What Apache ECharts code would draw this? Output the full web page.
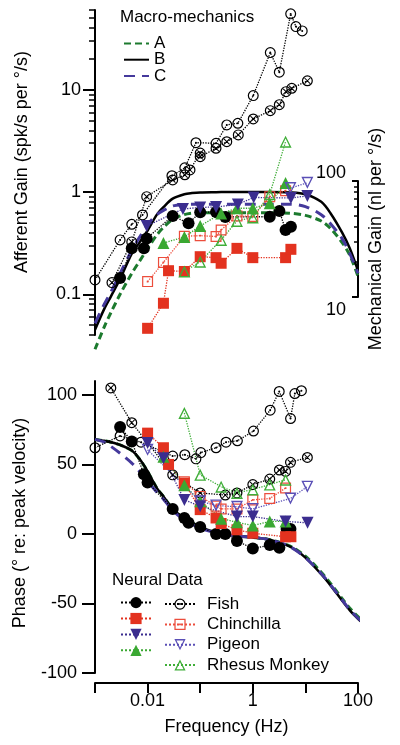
<!DOCTYPE html>
<html><head><meta charset="utf-8">
<script src="https://cdn.jsdelivr.net/npm/echarts@6/dist/echarts.min.js"></script>
<style>html,body{margin:0;padding:0;background:#fff}#c{width:400px;height:745px}</style>
</head><body><div id="c"></div>
<script>
// ---------------- DATA ----------------
// Macro-mechanics model curves (frequency in Hz)
const curveFreq = [0.001,0.0015,0.002,0.003,0.005,0.007,0.01,0.015,0.02,0.03,0.05,0.07,0.1,0.2,0.5,1,2,5,10,20,30,50,70,100];
const gainA = [0.029,0.048,0.066,0.10,0.16,0.21,0.28,0.38,0.45,0.54,0.60,0.62,0.625,0.625,0.625,0.625,0.625,0.62,0.59,0.52,0.44,0.32,0.24,0.15];
const gainB = [0.045,0.072,0.095,0.141,0.25,0.32,0.42,0.60,0.71,0.86,0.95,0.975,0.99,0.995,1.0,1.0,1.0,0.99,0.95,0.80,0.62,0.40,0.28,0.17];
const gainC = [0.052,0.08,0.105,0.16,0.27,0.36,0.48,0.60,0.66,0.73,0.755,0.76,0.76,0.76,0.76,0.76,0.76,0.76,0.72,0.60,0.49,0.35,0.25,0.16];
const phaseFreq = [0.001,0.0015,0.002,0.003,0.005,0.007,0.01,0.015,0.02,0.03,0.05,0.07,0.1,0.2,0.5,1,2,5,10,20,30,50,70,100,140];
const phaseA = [68,67,66,64,60,54,45,33,27,18,11,8,5,1,-1.5,-2.5,-4,-8.5,-16,-27.5,-35.5,-46.5,-53.5,-59.5,-64.5];
const phaseB = [68,67,66,64,60,54,45,33,27,18,11,8,5,1,-1.5,-2.5,-4,-9,-17,-29,-37,-48,-55,-61,-66];
const phaseC = [68,66,63,58,51,45,38,30,25,17,10,7,4,1,-1.5,-2.5,-4,-9,-17,-28.5,-36.5,-47.5,-54.5,-60.5,-65.5];

// Neural data: Fish (filled circles)
const fishFilledGainFreq = [0.003,0.005,0.0085,0.0096,0.03,0.06,0.1,0.2,0.3,2.1,3.2,4.2,5.3];
const fishFilledGain = [0.144,0.282,0.282,0.351,0.583,0.494,0.633,0.637,0.570,0.573,0.652,0.425,0.458];
const fishFilledPhaseFreq = [0.003,0.005,0.0085,0.01,0.03,0.05,0.06,0.1,0.2,0.3,0.5,1,2.1,3.2,4.4,5.2];
const fishFilledPhase = [77,66.5,43,37,18,11.5,8,5,0,0,-5,-10.5,-8,-10,3.5,3.5];
// Fish (open circles)
const fishOpenGainFreq = [0.001,0.003,0.005,0.008,0.029,0.051,0.083,0.2,0.32,0.52,1.02,2.15,3.19,5.25,6.6,8.7];
const fishOpenGain = [0.138,0.34,0.483,0.596,1.44,1.72,3.03,2.99,4.52,4.69,8.74,23,14.8,55,41.3,37.5];
const fishOpenPhaseFreq = [0.001,0.003,0.0075,0.03,0.051,0.083,0.103,0.2,0.31,0.51,1.03,2.14,3.18,5.22,6.3,8.4];
const fishOpenPhase = [62,70.5,66,56,57,54,58.5,62,66,67,74,89,102.5,83,101,103];
// Fish (crossed circles)
const fishCrossGainFreq = [0.0021,0.005,0.0096,0.03,0.051,0.064,0.1,0.1,0.2,0.32,0.53,1.02,2.15,3.19,4.28,5.5,10.9];
const fishCrossGain = [0.13,0.325,0.90,1.31,1.47,1.64,2.40,2.21,2.67,3.10,3.61,5.17,6.23,7.13,9.56,10.3,12.2];
const fishCrossPhaseFreq = [0.002,0.005,0.03,0.1,0.3,0.5,1,2.1,3.2,4.2,5.2,10.9];
const fishCrossPhase = [105,80,42.5,29.5,28,29.5,35.5,39.5,46,45,51.5,55];
// Chinchilla (filled squares)
const chinFilledFreq = [0.01,0.02,0.025,0.05,0.1,0.2,0.25,0.5,1,4.2,5.3];
const chinFilledGain = [0.0465,0.0817,0.170,0.167,0.233,0.228,0.201,0.281,0.228,0.228,0.275];
const chinFilledPhase = [72.5,62,50,36.5,17.5,11.5,7.5,3,0.5,-2,-2];
// Chinchilla (open squares)
const chinOpenGainFreq = [0.01,0.02,0.05,0.1,0.2,0.25,0.5,1,2.1,4.2];
const chinOpenGain = [0.133,0.205,0.369,0.374,0.367,0.425,0.583,0.576,0.90,1.03];
const chinOpenPhaseFreq = [0.05,0.1,0.2,0.25,0.5,1,2.1,4.2];
const chinOpenPhase = [37.5,27,20,18,18,24.5,25.5,33];
// Pigeon (filled down-triangles)
const pigFilledGainFreq = [0.0096,0.047,0.1,0.2,0.52,1.04,5.3,10.9];
const pigFilledGain = [0.465,0.682,0.706,0.713,0.755,0.884,0.874,0.914];
const pigFilledPhaseFreq = [0.01,0.02,0.05,0.1,0.5,1,4.2,11];
const pigFilledPhase = [65.5,54.5,24.5,20,12.5,12.5,9,8];
// Pigeon (open down-triangles)
const pigOpenGainFreq = [5.2,10.9];
const pigOpenGain = [1.09,1.23];
const pigOpenPhaseFreq = [0.01,0.1,0.2,0.5,1,5.2,10.9];
const pigOpenPhase = [60.5,23.5,20.5,19.5,18,25.5,34];
// Rhesus Monkey (filled triangles)
const rheFilledFreq = [0.02,0.05,0.1,0.25,0.5,1,2.1,4.2];
const rheFilledGain = [0.317,0.363,0.465,0.617,0.693,0.693,0.776,1.22];
const rheFilledPhase = [55.5,35,23.5,11,8.5,6,9,9];
// Rhesus Monkey (open triangles)
const rheOpenFreq = [0.05,0.1,0.25,0.5,1,2.1,4.2];
const rheOpenGain = [0.167,0.208,0.340,0.521,0.563,0.95,3.10];
const rheOpenPhase = [87,42.5,34,29.5,32,35.5,39];

// Axis ticks / labels
const gainRange = [0.04, 60];
const gainMajorTicks = [0.1, 1, 10];
const gainMinorTicks = [0.04,0.05,0.06,0.07,0.08,0.09,0.2,0.3,0.4,0.5,0.6,0.7,0.8,0.9,2,3,4,5,6,7,8,9,20,30,40,50,60];
const mechRange = [10, 100];
const mechMajorTicks = [10, 100];
const mechMinorTicks = [20,30,40,50,60,70,80,90];
const freqRange = [0.001, 100];
const freqTicks = [0.001,0.01,0.1,1,10,100];
const freqTickLabels = [0.01, 1, 100];
const phaseRange = [-100, 110];
const phaseTicks = [-100,-50,0,50,100];

// ---------------- STYLE ----------------
const FONT = '"Liberation Sans", Arial, Helvetica, sans-serif';
const COL = {
  black:'#000000', greenDark:'#1c7a2e', blueDark:'#45399c',
  red:'#e3321f', redOpen:'#ec4d3c', green:'#3aa832', greenOpen:'#3fae38',
  pigeon:'#3b2d8f', pigeonOpen:'#5a4fb6'
};
const SYM = {
  dotCircle:'path://M0,10A10,10 0 1,0 20,10A10,10 0 1,0 0,10Z M2.2,10A7.8,7.8 0 1,1 17.8,10A7.8,7.8 0 1,1 2.2,10Z M8.2,10A1.8,1.8 0 1,0 11.8,10A1.8,1.8 0 1,0 8.2,10Z',
  crossCircle:'path://M0,10A10,10 0 1,0 20,10A10,10 0 1,0 0,10Z M2.2,10A7.8,7.8 0 1,1 17.8,10A7.8,7.8 0 1,1 2.2,10Z M5.6,4.3L15.7,14.4L14.4,15.7L4.3,5.6Z M14.4,4.3L15.7,5.6L5.6,15.7L4.3,14.4Z',
  dotSquare:'path://M0,0L20,0L20,20L0,20Z M2.2,2.2L2.2,17.8L17.8,17.8L17.8,2.2Z M8.4,8.4L11.6,8.4L11.6,11.6L8.4,11.6Z',
  openTri:'path://M10,0L20,18L0,18Z M10,4.4L3.7,15.9L16.3,15.9Z'
};

const ln = (x) => Math.log10(x);
function fmtNum(v){ const r = Math.pow(10, v); return String(parseFloat(r.toPrecision(3))); }

function curve(name, F, V, isGain, color, width, dash){
  return {
    type:'line', name, xAxisIndex: isGain?0:1, yAxisIndex: isGain?0:2,
    data: F.map((f,i)=>[ln(f), isGain ? ln(V[i]) : V[i]]),
    symbol:'none', clip:false, smooth:0.3, z:2,
    lineStyle:{color, width, type: dash || 'solid'}, itemStyle:{color},
    emphasis:{disabled:true}
  };
}
function marks(name, F, V, isGain, color, symbol, size, rotate, lineColor){
  return {
    type:'line', name, xAxisIndex: isGain?0:1, yAxisIndex: isGain?0:2,
    data: F.map((f,i)=>[ln(f), isGain ? ln(V[i]) : V[i]]),
    symbol, symbolSize:size, symbolRotate: rotate||0, showSymbol:true, z:3,
    lineStyle:{color: lineColor||color, width:1.3, type:'dotted'},
    itemStyle:{color, borderColor:color, borderWidth:0},
    emphasis:{disabled:true}
  };
}

const series = [
  curve('A', curveFreq, gainA, true, COL.greenDark, 3, [7,4]),
  curve('B', curveFreq, gainB, true, COL.black, 2.5),
  curve('C', curveFreq, gainC, true, COL.blueDark, 3, [11,7]),
  curve('A', phaseFreq, phaseA, false, COL.greenDark, 3, [7,4]),
  curve('B', phaseFreq, phaseB, false, COL.black, 2.5),
  curve('C', phaseFreq, phaseC, false, COL.blueDark, 3, [11,7]),

  marks('Fish open', fishOpenGainFreq, fishOpenGain, true, COL.black, SYM.dotCircle, 11),
  marks('Fish cross', fishCrossGainFreq, fishCrossGain, true, COL.black, SYM.crossCircle, 11),
  marks('Fish', fishFilledGainFreq, fishFilledGain, true, COL.black, 'circle', 12),
  marks('Chinchilla open', chinOpenGainFreq, chinOpenGain, true, COL.redOpen, SYM.dotSquare, 11),
  marks('Chinchilla', chinFilledFreq, chinFilledGain, true, COL.red, 'rect', 11),
  marks('Rhesus Monkey open', rheOpenFreq, rheOpenGain, true, COL.greenOpen, SYM.openTri, 12),
  marks('Rhesus Monkey', rheFilledFreq, rheFilledGain, true, COL.green, 'triangle', 12),
  marks('Pigeon open', pigOpenGainFreq, pigOpenGain, true, COL.pigeonOpen, SYM.openTri, 12, 180),
  marks('Pigeon', pigFilledGainFreq, pigFilledGain, true, COL.pigeon, 'triangle', 12, 180),

  marks('Fish open', fishOpenPhaseFreq, fishOpenPhase, false, COL.black, SYM.dotCircle, 11),
  marks('Fish cross', fishCrossPhaseFreq, fishCrossPhase, false, COL.black, SYM.crossCircle, 11),
  marks('Fish', fishFilledPhaseFreq, fishFilledPhase, false, COL.black, 'circle', 12),
  marks('Chinchilla open', chinOpenPhaseFreq, chinOpenPhase, false, COL.redOpen, SYM.dotSquare, 11),
  marks('Chinchilla', chinFilledFreq, chinFilledPhase, false, COL.red, 'rect', 11),
  marks('Rhesus Monkey open', rheOpenFreq, rheOpenPhase, false, COL.greenOpen, SYM.openTri, 12),
  marks('Rhesus Monkey', rheFilledFreq, rheFilledPhase, false, COL.green, 'triangle', 12),
  marks('Pigeon open', pigOpenPhaseFreq, pigOpenPhase, false, COL.pigeonOpen, SYM.openTri, 12, 180),
  marks('Pigeon', pigFilledPhaseFreq, pigFilledPhase, false, COL.pigeon, 'triangle', 12, 180)
];

const axisLine = {show:true, onZero:false, lineStyle:{color:'#000', width:2}};
const noLine = {show:false, onZero:false};
const txt = {color:'#000', fontFamily:FONT};

const option = {
  animation:false,
  backgroundColor:'#fff',
  textStyle:{fontFamily:FONT, color:'#000'},
  title:[
    {text:'Macro-mechanics', left:115, top:4, padding:5, textStyle:Object.assign({fontSize:17, fontWeight:'normal'}, txt)},
    {text:'Neural Data', left:107, top:567, padding:5, textStyle:Object.assign({fontSize:17, fontWeight:'normal'}, txt)}
  ],
  legend:[
    {data:['A','B','C'], orient:'vertical', left:123, top:35, padding:0, itemWidth:25, itemHeight:10, itemGap:-0.8,
     selectedMode:false, itemStyle:{opacity:0}, textStyle:Object.assign({fontSize:17}, txt)},
    {data:['Fish','Chinchilla','Pigeon','Rhesus Monkey'], orient:'vertical', left:120, top:595.6, padding:0,
     itemWidth:30, itemHeight:14, itemGap:3.3, selectedMode:false, formatter:()=>'', textStyle:Object.assign({fontSize:17}, txt)},
    {data:['Fish open','Chinchilla open','Pigeon open','Rhesus Monkey open'], orient:'vertical', left:164, top:595.6, padding:0,
     itemWidth:30, itemHeight:14, itemGap:3.3, selectedMode:false, formatter:(n)=>n.replace(' open',''),
     textStyle:Object.assign({fontSize:17, padding:[0,0,0,7]}, txt)}
  ],
  grid:[
    {left:95, width:263, top:10, height:325},
    {left:95, width:263, top:381, height:292},
    {left:95, width:263, top:181, height:116}
  ],
  xAxis:[
    {type:'value', gridIndex:0, min:ln(freqRange[0]), max:ln(freqRange[1]), show:false, axisLine:noLine},
    {type:'value', gridIndex:1, min:ln(freqRange[0]), max:ln(freqRange[1]), offset:10,
     axisLine, splitLine:{show:false},
     axisTick:{show:true, length:10, lineStyle:{width:2, color:'#000'}, customValues:freqTicks.map(ln)},
     axisLabel:{customValues:freqTickLabels.map(ln), formatter:fmtNum, fontSize:18, margin:9, color:'#000', fontFamily:FONT},
     name:'Frequency (Hz)', nameLocation:'middle', nameGap:35, nameTextStyle:Object.assign({fontSize:18}, txt)},
    {type:'value', gridIndex:2, min:ln(freqRange[0]), max:ln(freqRange[1]), show:false, axisLine:noLine}
  ],
  yAxis:[
    {type:'value', gridIndex:0, position:'left', min:ln(gainRange[0]), max:ln(gainRange[1]),
     axisLine, splitLine:{show:false},
     axisTick:{show:true, length:12, lineStyle:{width:2, color:'#000'}, customValues:gainMajorTicks.map(ln)},
     axisLabel:{customValues:gainMajorTicks.map(ln), formatter:fmtNum, fontSize:18, margin:14, color:'#000', fontFamily:FONT},
     name:'Afferent Gain (spk/s per °/s)', nameLocation:'middle', nameRotate:90, nameGap:64,
     nameTextStyle:Object.assign({fontSize:18, padding:[0,0,0,21]}, txt)},
    {type:'value', gridIndex:0, position:'left', min:ln(gainRange[0]), max:ln(gainRange[1]),
     axisLine:noLine, splitLine:{show:false}, axisLabel:{show:false},
     axisTick:{show:true, length:6, lineStyle:{width:1.5, color:'#000'}, customValues:gainMinorTicks.map(ln)}},
    {type:'value', gridIndex:1, position:'left', min:phaseRange[0], max:phaseRange[1],
     axisLine, splitLine:{show:false},
     axisTick:{show:true, length:13, lineStyle:{width:2, color:'#000'}, customValues:phaseTicks},
     axisLabel:{customValues:phaseTicks, fontSize:18, margin:18, color:'#000', fontFamily:FONT},
     name:'Phase (° re: peak velocity)', nameLocation:'middle', nameRotate:90, nameGap:66,
     nameTextStyle:Object.assign({fontSize:18, padding:[0,0,0,8]}, txt)},
    {type:'value', gridIndex:2, position:'right', min:ln(mechRange[0]), max:ln(mechRange[1]),
     axisLine, splitLine:{show:false},
     axisTick:{show:true, inside:true, length:6, lineStyle:{width:2, color:'#000'}, customValues:mechMajorTicks.map(ln)},
     axisLabel:{inside:true, customValues:mechMajorTicks.map(ln), margin:12, fontSize:18, color:'#000', fontFamily:FONT,
       formatter:(v)=> v > 1.5 ? '{t|' + fmtNum(v) + '}' : '{b|' + fmtNum(v) + '}',
       rich:{t:{fontSize:18, fontFamily:FONT, padding:[0,0,16,0]}, b:{fontSize:18, fontFamily:FONT, padding:[26,0,0,0]}}},
     name:'Mechanical Gain (nl per °/s)', nameLocation:'middle', nameRotate:90, nameGap:9,
     nameTextStyle:Object.assign({fontSize:18}, txt)},
    {type:'value', gridIndex:2, position:'right', min:ln(mechRange[0]), max:ln(mechRange[1]),
     axisLine:noLine, splitLine:{show:false}, axisLabel:{show:false},
     axisTick:{show:true, inside:true, length:4, lineStyle:{width:1.5, color:'#000'}, customValues:mechMinorTicks.map(ln)}}
  ],
  series
};

const chart = echarts.init(document.getElementById('c'), null, {renderer:'canvas'});
chart.setOption(option);
</script></body></html>
